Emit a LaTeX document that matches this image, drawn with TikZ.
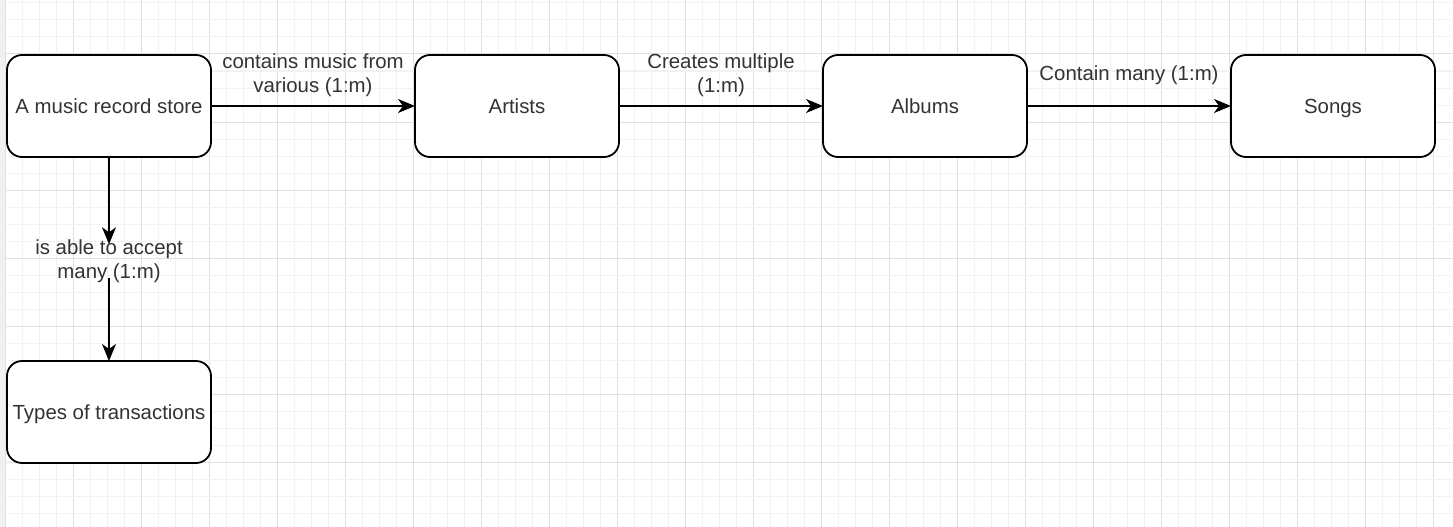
\documentclass[tikz,border=0pt]{standalone}
\usepackage{fontspec}
\setmainfont{Liberation Sans}
\usetikzlibrary{arrows.meta,positioning}

\tikzset{
    entity/.style={draw, line width=1.8pt, rounded corners=15pt, fill=white,
        minimum width=204pt, minimum height=102pt, outer sep=0pt,
        text height=20pt, text depth=4.3pt,
        font=\fontsize{20.4}{24}\selectfont, text=black!80},
    relation/.style={inner sep=0pt, align=center,
        font=\fontsize{20.4}{24}\selectfont, text=black!80},
    link/.style={line width=1.8pt, -{Stealth[length=17pt,width=14pt,inset=5pt]}}
}

\begin{document}
\begin{tikzpicture}[x=1pt,y=-1pt]
            %background and grid
            \useasboundingbox (0,0) rectangle (1453,527);

            \fill[white] (0,0) rectangle (1453,527);

            \foreach \k in {0,...,84} {
                \pgfmathtruncatemacro{\gx}{5+17*\k}
                \pgfmathtruncatemacro{\gm}{mod(\k,4)}
                \ifnum\gm=0
                    \draw[gray!24, line width=1pt] (\gx,0) -- (\gx,527);
                \else
                    \draw[gray!10, line width=1pt] (\gx,0) -- (\gx,527);
                \fi
            }

            \foreach \k in {0,...,30} {
                \pgfmathtruncatemacro{\gy}{3+17*\k}
                \pgfmathtruncatemacro{\gm}{mod(\k,4)}
                \ifnum\gm=3
                    \draw[gray!24, line width=1pt] (5,\gy) -- (1453,\gy);
                \else
                    \draw[gray!10, line width=1pt] (5,\gy) -- (1453,\gy);
                \fi
            }

            \fill[gray!12] (0,0) rectangle (5,527);

            %entities
            \node[entity] (store) at (109,106) {A music record store};

            \node[entity, right=204pt of store] (artists) {Artists};

            \node[entity, right=204pt of artists] (albums) {Albums};

            \node[entity, right=204pt of albums] (songs) {Songs};

            \node[entity, below=204pt of store] (transactions) {Types of transactions};

            %relations
            \draw[link] (store) -- node[relation, yshift=31pt] {contains music from\\various (1:m)} (artists);

            \draw[link] (artists) -- node[relation, yshift=31pt] {Creates multiple\\(1:m)} (albums);

            \draw[link] (albums) -- node[relation, yshift=31pt] {Contain many (1:m)} (songs);

            \path (store) -- node[relation, yshift=-2pt] (accept) {is able to accept\\many (1:m)} (transactions);

            \draw[link, shorten >=-5pt] (store) -- (accept);

            \draw[link, shorten <=-5pt] (accept) -- (transactions);
        \end{tikzpicture}
\end{document}
